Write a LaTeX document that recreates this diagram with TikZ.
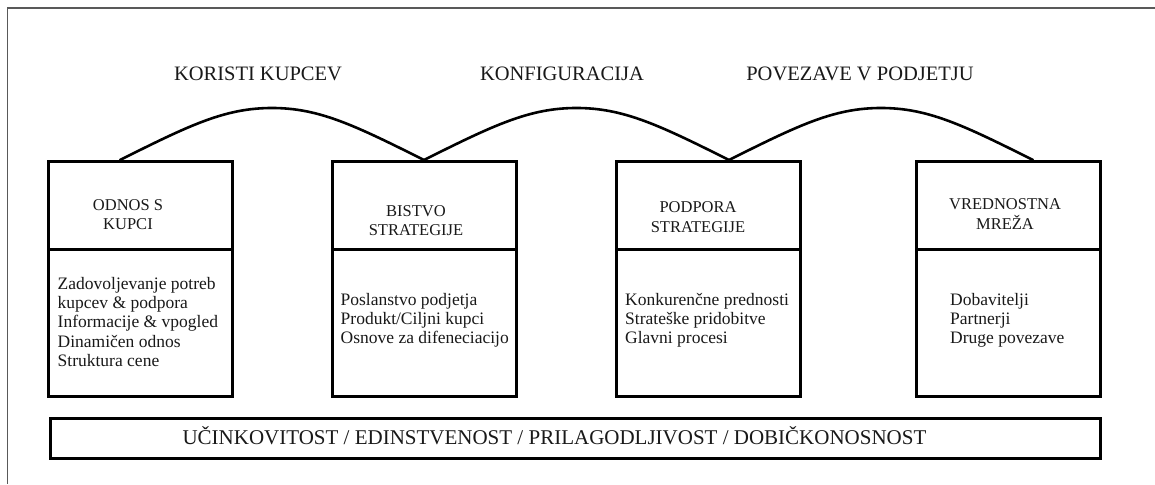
\documentclass[tikz,border=0pt]{standalone}
\usepackage{fontspec}
\setmainfont{Liberation Serif}
\usetikzlibrary{calc}
\begin{document}
\begin{tikzpicture}[x=1pt,y=-1pt,
  frame/.style={draw=black!65, line width=1.4pt},
  headbox/.style={draw=black, line width=2.6pt, inner sep=0pt, minimum width=184pt, minimum height=88pt, anchor=north west},
  bodybox/.style={draw=black, line width=2.6pt, inner sep=0pt, minimum width=184pt, minimum height=147pt, anchor=north west},
  barbox/.style={draw=black, line width=2.6pt, inner sep=0pt, minimum width=1050pt, minimum height=40pt, anchor=north west},
  arch/.style={draw=black, line width=2.6pt, line cap=round, line join=round},
  titletext/.style={inner sep=0pt, anchor=base, text=black!90, font=\fontsize{20.5}{24}\selectfont},
  headtext/.style={inner sep=0pt, anchor=north, align=center, text=black!90, font=\fontsize{16.5}{19.5}\selectfont},
  bodytext/.style={inner sep=0pt, anchor=north west, align=left, text=black!90, font=\fontsize{17.5}{19.3}\selectfont},
  bartext/.style={inner sep=0pt, anchor=base, text=black!90, font=\fontsize{21}{24}\selectfont}]
\useasboundingbox (0,0) rectangle (1155,484);
\fill[white] (0,0) rectangle (1155,484);
% outer frame (open to right and bottom)
\draw[frame] (1155,8) -- (7.5,8) -- (7.5,484);

% boxes
\node[bodybox] (b1) at (47,248) {};
\node[bodybox] (b2) at (331,248) {};
\node[bodybox] (b3) at (615,248) {};
\node[bodybox] (b4) at (915,248) {};
\node[headbox] (h1) at (47,160) {};
\node[headbox] (h2) at (331,160) {};
\node[headbox] (h3) at (615,160) {};
\node[headbox] (h4) at (915,160) {};

% header texts
\node[headtext] (t1) at (128,199) {ODNOS S\\KUPCI};
\node[headtext] (t2) at (416,205) {BISTVO\\STRATEGIJE};
\node[headtext] (t3) at (698,201.5) {PODPORA\\STRATEGIJE};
\node[headtext] (t4) at (1005,198.5) {VREDNOSTNA\\MREŽA};

% body texts
\node[bodytext] (d1) at (57.5,277) {Zadovoljevanje potreb\\kupcev \& podpora\\Informacije \& vpogled\\Dinamičen odnos\\Struktura cene};
\node[bodytext] (d2) at (340.5,293) {Poslanstvo podjetja\\Produkt/Ciljni kupci\\Osnove za difeneciacijo};
\node[bodytext] (d3) at (625,293) {Konkurenčne prednosti\\Strateške pridobitve\\Glavni procesi};
\node[bodytext] (d4) at (950,293) {Dobavitelji\\Partnerji\\Druge povezave};

% arch connectors
\coordinate (c1) at ([xshift=73pt]h1.north west);
\coordinate (c2) at ([xshift=93pt]h2.north west);
\coordinate (c3) at ([xshift=114pt]h3.north west);
\coordinate (c4) at ([xshift=118pt]h4.north west);
\coordinate (k1) at ($(c1)!0.5!(c2)+(0,-52)$);
\coordinate (k2) at ($(c2)!0.5!(c3)+(0,-52)$);
\coordinate (k3) at ($(c3)!0.5!(c4)+(0,-52)$);
\draw[arch] (c1) .. controls +(70,-35) and +(-47,0) .. (k1)
                 .. controls +(47,0) and +(-70,-35) .. (c2)
                 .. controls +(70,-35) and +(-47,0) .. (k2)
                 .. controls +(47,0) and +(-70,-35) .. (c3)
                 .. controls +(70,-35) and +(-47,0) .. (k3)
                 .. controls +(47,0) and +(-70,-35) .. (c4);

% arch labels
\node[titletext] (l1) at (258,81) {KORISTI KUPCEV};
\node[titletext] (l2) at (562,81) {KONFIGURACIJA};
\node[titletext] (l3) at (860,81) {POVEZAVE V PODJETJU};

% bottom bar
\node[barbox] (bar) at (49,417) {};
\node[bartext] (bt) at (554.5,444) {UČINKOVITOST / EDINSTVENOST / PRILAGODLJIVOST / DOBIČKONOSNOST};
\end{tikzpicture}
\end{document}
